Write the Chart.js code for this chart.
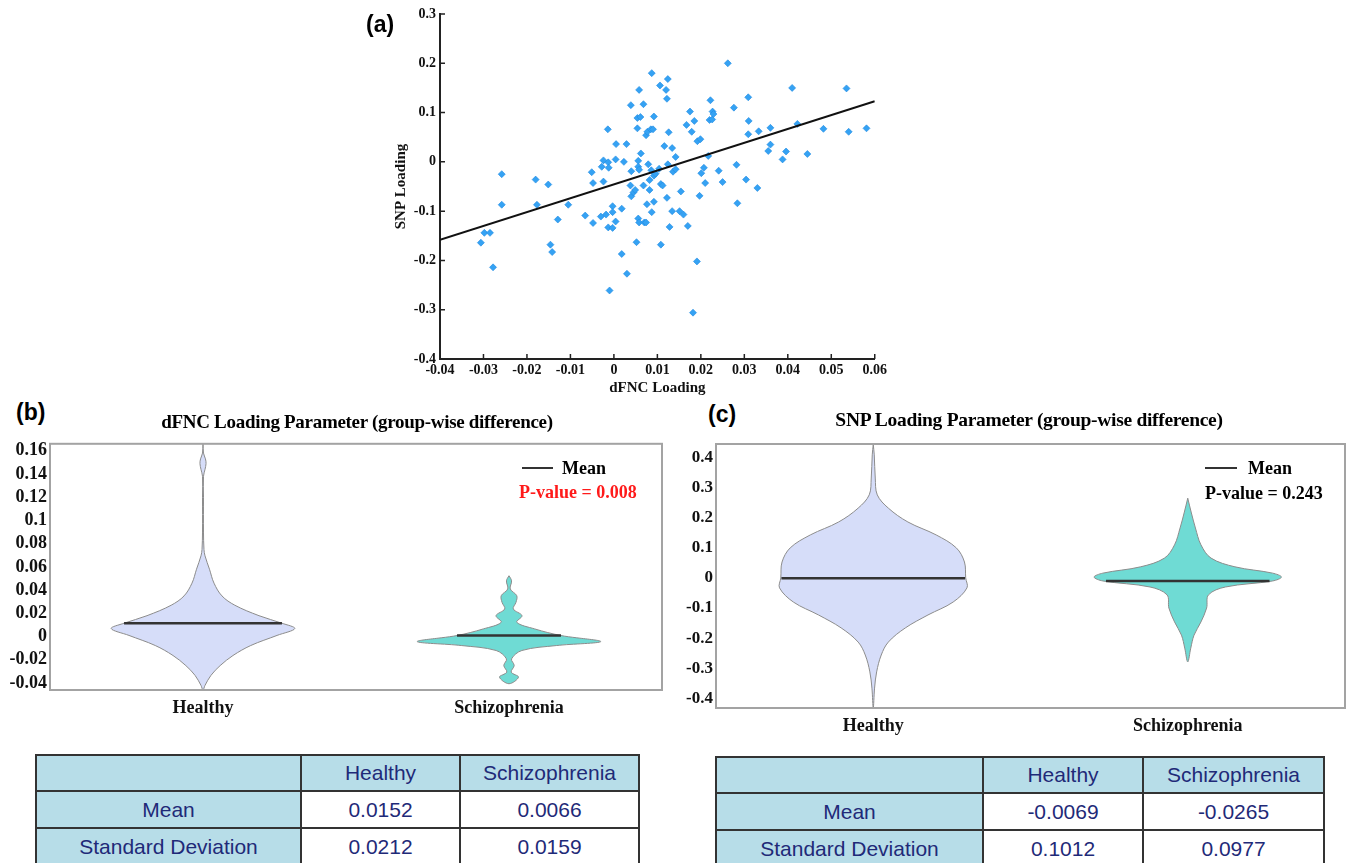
<!DOCTYPE html>
<html>
<head>
<meta charset="utf-8">
<script src="https://cdn.jsdelivr.net/npm/chart.js@4.4.0/dist/chart.umd.min.js"></script>
<style>
  body { margin:0; width:1353px; height:863px; background:#fff; position:relative; overflow:hidden; font-family:"Liberation Serif", "Times New Roman", serif; }
  canvas { position:absolute; }
  .panel { position:absolute; font-family:"Liberation Sans", Arial, sans-serif; font-weight:bold; font-size:23px; line-height:1; transform:translateY(-50%); }
  .ttl { position:absolute; font-weight:bold; font-size:19px; white-space:nowrap; transform:translate(-50%,-50%); letter-spacing:-0.3px; }
  .leg { position:absolute; font-weight:bold; font-size:18px; white-space:nowrap; line-height:1; transform:translateY(-50%); }
  .legline { position:absolute; height:2px; background:#333; }
  table { position:absolute; border-collapse:collapse; font-family:"Liberation Sans", Arial, sans-serif; font-size:21px; color:#1f2a78; table-layout:fixed; }
  td { border:2px solid #333; text-align:center; padding:0; background:#fff; }
  td.h { background:#b7dde8; }
</style>
</head>
<body>
<canvas id="scatter" width="510" height="400" style="left:380px;top:0px"></canvas>
<canvas id="dfnc" width="680" height="300" style="left:0px;top:430px"></canvas>
<canvas id="snp" width="693" height="310" style="left:660px;top:430px"></canvas>

<div class="panel" style="left:366px;top:24px">(a)</div>
<div class="panel" style="left:16px;top:412px">(b)</div>
<div class="panel" style="left:708px;top:414px">(c)</div>

<div class="ttl" style="left:357px;top:422px">dFNC Loading Parameter (group-wise difference)</div>
<div class="ttl" style="left:1029px;top:420px;font-size:19.5px">SNP Loading Parameter (group-wise difference)</div>

<div class="legline" style="left:522px;top:467px;width:31px"></div>
<div class="leg" style="left:562px;top:468px">Mean</div>
<div class="leg" style="left:519px;top:492px;color:#ff1a1a">P-value = 0.008</div>

<div class="legline" style="left:1205px;top:467px;width:32px"></div>
<div class="leg" style="left:1248px;top:468px">Mean</div>
<div class="leg" style="left:1205px;top:493px">P-value = 0.243</div>

<table id="tblB" style="left:35px;top:754px;width:603px"></table>
<table id="tblC" style="left:715px;top:756px;width:608px"></table>

<script>
// (a) scatter: dFNC loading vs SNP loading
const scatterX = [-0.0306,-0.0298,-0.0285,-0.0278,-0.0258,-0.0258,-0.018,-0.0177,-0.0151,-0.0146,
  -0.0142,-0.0129,-0.0105,-0.0066,-0.0051,-0.0048,-0.0048,-0.003,-0.0028,-0.0024,
  -0.0024,-0.0018,-0.0014,-0.0013,-0.0012,-0.0013,-0.0003,-0.0003,-0.0003,-0.001,
  0.0004,0.0005,0.0004,0.0018,0.0018,0.0023,0.0029,0.003,0.0039,0.004,
  0.0038,0.004,0.0045,0.0049,0.0052,0.0054,0.0054,0.0056,0.0056,0.0058,
  0.0056,0.0058,0.0058,0.0061,0.0062,0.0068,0.0068,0.007,0.0074,0.0074,
  0.0077,0.0076,0.0079,0.0082,0.0082,0.0085,0.0087,0.0087,0.0092,0.0092,
  0.0092,0.0086,0.009,0.0096,0.0104,0.0106,0.0108,0.0108,0.0112,0.0116,
  0.012,0.0122,0.0124,0.0122,0.0124,0.0126,0.0128,0.0134,0.0134,0.0136,
  0.0142,0.0142,0.0151,0.0154,0.016,0.0167,0.017,0.0175,0.0179,0.0182,
  0.0185,0.0191,0.0192,0.0199,0.0197,0.0201,0.0207,0.021,0.0217,0.0222,
  0.022,0.0226,0.0227,0.0229,0.0241,0.025,0.0262,0.0276,0.0282,0.0284,
  0.0304,0.0309,0.0309,0.031,0.033,0.0333,0.0355,0.036,0.036,0.0388,
  0.0396,0.041,0.0422,0.0445,0.0482,0.0535,0.054,0.0581];
const scatterY = [-0.164,-0.144,-0.144,-0.214,-0.025,-0.087,-0.036,-0.087,-0.046,-0.168,
  -0.183,-0.117,-0.087,-0.109,-0.021,-0.043,-0.124,-0.111,-0.010,0.003,
  -0.040,-0.107,0.066,-0.001,-0.012,-0.133,-0.090,-0.102,-0.134,-0.261,
  0.005,0.036,-0.121,-0.095,-0.187,0.000,0.036,-0.227,0.115,-0.019,
  -0.048,-0.070,-0.062,-0.057,-0.163,0.068,0.089,0.002,-0.010,-0.016,
  -0.115,-0.123,0.146,0.091,0.017,0.117,-0.048,-0.123,-0.123,0.054,
  0.061,-0.086,-0.005,-0.057,-0.037,0.066,0.180,-0.102,0.092,-0.081,
  -0.028,-0.017,0.066,-0.024,-0.014,0.155,-0.168,-0.045,-0.048,0.032,
  0.146,0.128,0.168,-0.073,-0.005,0.060,-0.132,0.028,-0.100,-0.020,
  -0.015,0.010,-0.100,-0.060,-0.107,0.075,-0.130,0.102,0.061,-0.306,
  0.083,-0.202,0.042,0.046,-0.069,-0.023,-0.012,-0.043,0.012,0.125,
  0.085,0.086,0.102,0.097,-0.018,-0.041,0.200,0.110,-0.006,-0.084,
  -0.036,0.131,0.056,0.083,-0.053,0.062,0.022,0.035,0.069,0.005,
  0.021,0.150,0.077,0.016,0.067,0.149,0.061,0.068];
const fitX = [-0.04, 0.06];
const fitY = [-0.158, 0.123];
const scatterXTicks = [-0.04,-0.03,-0.02,-0.01,0,0.01,0.02,0.03,0.04,0.05,0.06];
const scatterXLabels = ['-0.04','-0.03','-0.02','-0.01','0','0.01','0.02','0.03','0.04','0.05','0.06'];
const scatterYTicks = [0.3,0.2,0.1,0,-0.1,-0.2,-0.3,-0.4];
const scatterYLabels = ['0.3','0.2','0.1','0','-0.1','-0.2','-0.3','-0.4'];

// violin panels: group positions on a 0..1 axis
const groups = ['Healthy', 'Schizophrenia'];
const groupPos = [0.25, 0.75];

// (b) dFNC violins: value levels and density half-widths
const dfncLevelsH = [0.166,0.158,0.153,0.149,0.144,0.138,0.12,0.09,0.075,0.0695,0.058,0.046,0.035,0.027,0.018,0.0115,0.0069,0.001,-0.0077,-0.0163,-0.025,-0.0334,-0.042,-0.046];
const dfncDensH  = [0,0.0008,0.004,0.005,0.0033,0.0008,0.0008,0.0008,0.0016,0.0033,0.0106,0.018,0.031,0.052,0.0915,0.129,0.15,0.121,0.078,0.049,0.028,0.013,0.0033,0];
const dfncLevelsS = [0.0524,0.048,0.041,0.0352,0.0295,0.0238,0.018,0.0123,0.0066,0.0009,-0.0043,-0.0077,-0.012,-0.0192,-0.0249,-0.0306,-0.0349,-0.0406];
const dfncDensS  = [0,0.0042,0.0021,0.0127,0.0114,0.007,0.0212,0.0127,0.042,0.085,0.15,0.078,0.021,0.0042,0.0085,0.0036,0.0155,0];
const dfncMeans = [0.0115, 0.0009];
const dfncMeanHalf = [0.129, 0.085];
const dfncTicks = [0.16,0.14,0.12,0.1,0.08,0.06,0.04,0.02,0,-0.02,-0.04];
const dfncTickLabels = ['0.16','0.14','0.12','0.1','0.08','0.06','0.04','0.02','0','-0.02','-0.04'];

// (c) SNP violins
const snpLevelsH = [0.443,0.409,0.332,0.276,0.232,0.186,0.143,0.1,0.053,0,-0.033,-0.08,-0.123,-0.166,-0.213,-0.256,-0.312,-0.366,-0.432];
const snpDensH  = [0,0.0016,0.0032,0.0064,0.024,0.055,0.1,0.132,0.145,0.147,0.149,0.127,0.087,0.051,0.024,0.0127,0.0054,0.0021,0];
const snpLevelsS = [0.265,0.219,0.166,0.11,0.066,0.037,0.016,0.003,-0.01,-0.03,-0.056,-0.1,-0.146,-0.19,-0.233,-0.279];
const snpDensS  = [0,0.0054,0.0122,0.021,0.037,0.075,0.135,0.149,0.135,0.06,0.033,0.03,0.021,0.01,0.0048,0];
const snpMeans = [-0.001, -0.01];
const snpMeanHalf = [0.146, 0.13];
const snpTicks = [0.4,0.3,0.2,0.1,0,-0.1,-0.2,-0.3,-0.4];
const snpTickLabels = ['0.4','0.3','0.2','0.1','0','-0.1','-0.2','-0.3','-0.4'];

// tables
const statRows = ['Mean', 'Standard Deviation'];
const dfncStats = [['0.0152', '0.0066'], ['0.0212', '0.0159']];
const snpStats = [['-0.0069', '-0.0265'], ['0.1012', '0.0977']];

const serif = '"Liberation Serif", "Times New Roman", serif';
const violinFill = ['#d6ddf9', '#6fdbd4'];

// ticks pointing into the plot, MATLAB style
const innerTicks = {
    id: 'innerTicks',
    afterDatasetsDraw(chart) {
        const ctx = chart.ctx;
        const xs = chart.scales.x, ys = chart.scales.y;
        ctx.save();
        ctx.strokeStyle = '#222';
        ctx.lineWidth = 1.5;
        ctx.beginPath();
        xs.ticks.forEach(t => {
            const px = xs.getPixelForValue(t.value);
            ctx.moveTo(px, ys.bottom);
            ctx.lineTo(px, ys.bottom - 5);
        });
        ys.ticks.forEach(t => {
            const py = ys.getPixelForValue(t.value);
            ctx.moveTo(xs.left, py);
            ctx.lineTo(xs.left + 5, py);
        });
        ctx.stroke();
        ctx.restore();
    }
};

// grey frame around violin plot area
const frame = {
    id: 'frame',
    afterDraw(chart) {
        const a = chart.chartArea, ctx = chart.ctx;
        ctx.save();
        ctx.strokeStyle = '#a3a3a3';
        ctx.lineWidth = 2;
        ctx.strokeRect(a.left, a.top, a.right - a.left, a.bottom - a.top);
        ctx.restore();
    }
};

function fixedTicks(vals) {
    return function(scale) { scale.ticks = vals.map(v => ({ value: v })); };
}

function createScatter() {
    const pts = scatterX.map((x, i) => ({ x: x, y: scatterY[i] }));
    const fit = fitX.map((x, i) => ({ x: x, y: fitY[i] }));
    new Chart(document.getElementById('scatter'), {
        type: 'scatter',
        data: {
            datasets: [
                {
                    type: 'line',
                    data: fit,
                    borderColor: '#111',
                    borderWidth: 2,
                    pointRadius: 0,
                    fill: false
                },
                {
                    data: pts,
                    pointStyle: 'rectRot',
                    pointRadius: 3.5,
                    backgroundColor: '#35a2f3',
                    borderColor: '#1f8ae2',
                    borderWidth: 0.6
                }
            ]
        },
        options: {
            responsive: false,
            animation: false,
            layout: { padding: { top: 14, right: 14 } },
            plugins: { legend: { display: false }, tooltip: { enabled: false } },
            scales: {
                x: {
                    type: 'linear', min: -0.04, max: 0.06,
                    afterBuildTicks: fixedTicks(scatterXTicks),
                    afterFit: s => { s.height = 41; },
                    grid: { display: false, drawTicks: false },
                    border: { color: '#222', width: 2 },
                    ticks: {
                        padding: 3, color: '#111',
                        font: { family: serif, size: 14, weight: 'bold' },
                        callback: (v, i) => scatterXLabels[i]
                    },
                    title: {
                        display: true, text: 'dFNC Loading', color: '#111',
                        font: { family: serif, size: 15, weight: 'bold' },
                        padding: { top: 0, bottom: 3 }
                    }
                },
                y: {
                    type: 'linear', min: -0.4, max: 0.3,
                    afterBuildTicks: fixedTicks(scatterYTicks),
                    afterFit: s => { s.width = 60; },
                    grid: { display: false, drawTicks: false },
                    border: { color: '#222', width: 2 },
                    ticks: {
                        padding: 4, color: '#111',
                        font: { family: serif, size: 14, weight: 'bold' },
                        callback: (v, i) => scatterYLabels[i]
                    },
                    title: {
                        display: true, text: 'SNP Loading', color: '#111',
                        font: { family: serif, size: 15, weight: 'bold' },
                        padding: { top: 12, bottom: 0 }
                    }
                }
            }
        },
        plugins: [innerTicks]
    });
}

function violinShape(center, levels, dens) {
    const right = levels.map((v, i) => ({ x: center + dens[i], y: v }));
    const left = levels.map((v, i) => ({ x: center - dens[i], y: v })).reverse();
    return right.concat(left.slice(1));
}

function createViolin(id, o) {
    const datasets = [];
    o.levels.forEach((lv, g) => {
        datasets.push({
            data: violinShape(groupPos[g], lv, o.dens[g]),
            borderColor: '#8c8c8c',
            borderWidth: 1,
            backgroundColor: violinFill[g],
            fill: 'shape',
            tension: 0.35,
            pointRadius: 0,
            order: 2
        });
        datasets.push({
            data: [
                { x: groupPos[g] - o.meanHalf[g], y: o.means[g] },
                { x: groupPos[g] + o.meanHalf[g], y: o.means[g] }
            ],
            borderColor: '#333',
            borderWidth: 2.5,
            pointRadius: 0,
            fill: false,
            order: 1
        });
    });

    new Chart(document.getElementById(id), {
        type: 'line',
        data: { datasets: datasets },
        options: {
            responsive: false,
            animation: false,
            layout: { padding: { top: o.padTop, right: o.padRight } },
            plugins: { legend: { display: false }, tooltip: { enabled: false } },
            scales: {
                x: {
                    type: 'linear', min: 0, max: 1,
                    afterBuildTicks: fixedTicks(groupPos),
                    afterFit: s => { s.height = o.xHeight; },
                    grid: { display: false, drawTicks: false },
                    border: { display: false },
                    ticks: {
                        padding: o.xPad, color: '#111', maxRotation: 0,
                        font: { family: serif, size: 18, weight: 'bold' },
                        callback: (v, i) => groups[i]
                    }
                },
                y: {
                    type: 'linear', min: o.yMin, max: o.yMax,
                    afterBuildTicks: fixedTicks(o.ticks),
                    afterFit: s => { s.width = o.yWidth; },
                    grid: { display: false, drawTicks: false },
                    border: { display: false },
                    ticks: {
                        padding: 3, color: '#111',
                        font: { family: serif, size: o.tickSize, weight: 'bold' },
                        callback: (v, i) => o.tickLabels[i]
                    }
                }
            }
        },
        plugins: [frame]
    });
}

function fillTable(id, values) {
    const t = document.getElementById(id);
    const w = id === 'tblB' ? ['265px', '159px', '179px'] : ['267px', '160px', '181px'];
    let html = '<colgroup>' + w.map(x => '<col style="width:' + x + '">').join('') + '</colgroup>';
    html += '<tr style="height:36px"><td class="h"></td>' + groups.map(g => '<td class="h">' + g + '</td>').join('') + '</tr>';
    statRows.forEach((r, i) => {
        html += '<tr style="height:37px"><td class="h">' + r + '</td>' + values[i].map(v => '<td>' + v + '</td>').join('') + '</tr>';
    });
    t.innerHTML = html;
}

createScatter();

createViolin('dfnc', {
    levels: [dfncLevelsH, dfncLevelsS],
    dens: [dfncDensH, dfncDensS],
    means: dfncMeans, meanHalf: dfncMeanHalf,
    ticks: dfncTicks, tickLabels: dfncTickLabels,
    yMin: -0.046, yMax: 0.166,
    padTop: 13, padRight: 18, yWidth: 50, xHeight: 40, xPad: 8, tickSize: 18
});

createViolin('snp', {
    levels: [snpLevelsH, snpLevelsS],
    dens: [snpDensH, snpDensS],
    means: snpMeans, meanHalf: snpMeanHalf,
    ticks: snpTicks, tickLabels: snpTickLabels,
    yMin: -0.432, yMax: 0.445,
    padTop: 14, padRight: 8, yWidth: 56, xHeight: 32, xPad: 8, tickSize: 17
});

fillTable('tblB', dfncStats);
fillTable('tblC', snpStats);
</script>
</body>
</html>
